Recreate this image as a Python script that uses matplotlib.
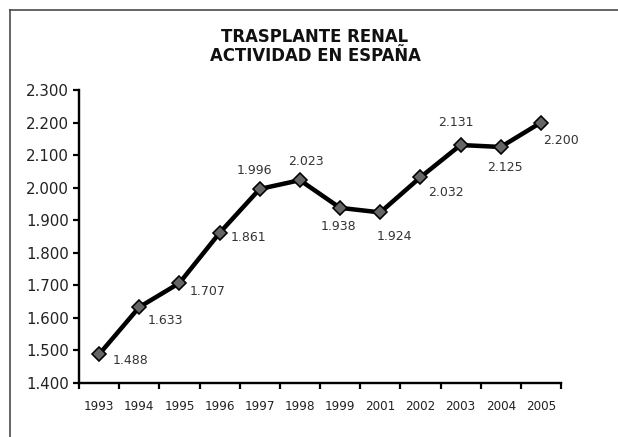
import matplotlib
matplotlib.use("Agg")
import matplotlib.pyplot as plt
from matplotlib.lines import Line2D
import numpy as np

years = ["1993", "1994", "1995", "1996", "1997", "1998", "1999", "2001", "2002", "2003", "2004", "2005"]
values = [1488, 1633, 1707, 1861, 1996, 2023, 1938, 1924, 2032, 2131, 2125, 2200]
value_labels = ["1.488", "1.633", "1.707", "1.861", "1.996", "2.023", "1.938", "1.924", "2.032", "2.131", "2.125", "2.200"]
yticks = [1400, 1500, 1600, 1700, 1800, 1900, 2000, 2100, 2200, 2300]
ytick_labels = ["1.400", "1.500", "1.600", "1.700", "1.800", "1.900", "2.000", "2.100", "2.200", "2.300"]
title = "TRASPLANTE RENAL\nACTIVIDAD EN ESPAÑA"

# label placement (offset in points, horizontal alignment)
label_pos = [
    ((14, -6), "left"), ((8, -13), "left"), ((10, -8), "left"), ((11, -5), "left"),
    ((-5, 18), "center"), ((6, 19), "center"), ((-2, -19), "center"), ((14, -24), "center"),
    ((8, -15), "left"), ((-5, 23), "center"), ((4, -21), "center"), ((2, -18), "left"),
]

DPI = 72
W, H = 618, 437
fig = plt.figure(figsize=(W / DPI, H / DPI), dpi=DPI)
fig.patch.set_facecolor("white")

# frame lines (top and left)
fig.add_artist(Line2D([10 / W, 1.0], [1 - 10 / H, 1 - 10 / H], color="#444444", lw=1.6, transform=fig.transFigure))
fig.add_artist(Line2D([10 / W, 10 / W], [0.0, 1 - 10 / H], color="#444444", lw=1.6, transform=fig.transFigure))

left, right, top, bottom = 79, 561, 90, 383
ax = fig.add_axes([left / W, (H - bottom) / H, (right - left) / W, (bottom - top) / H])

x = np.arange(len(years)) + 0.5
ax.plot(x, values, color="black", lw=4.5, marker="D", markersize=10.5,
        markerfacecolor="#666666", markeredgecolor="black", markeredgewidth=1.6, zorder=3,
        solid_joinstyle="miter")

for xi, v, lab, (off, ha) in zip(x, values, value_labels, label_pos):
    ax.annotate(lab, (xi, v), xytext=off, textcoords="offset points", ha=ha, va="center",
                fontsize=12.5, color="#333333", family="DejaVu Sans")

ax.set_xlim(0, len(years))
ax.set_ylim(1400, 2300)
ax.set_yticks(yticks)
ax.set_yticklabels(ytick_labels, fontsize=15, family="DejaVu Sans", color="#222222")
ax.set_xticks(x)
ax.set_xticklabels(years, fontsize=12, family="DejaVu Sans", color="#222222")
ax.set_xticks(np.arange(len(years) + 1), minor=True)
ax.tick_params(axis="x", which="major", length=0, pad=17)
ax.tick_params(axis="x", which="minor", length=6, width=2.2, direction="out", color="black")
ax.tick_params(axis="y", which="major", length=6, width=2.2, direction="out", color="black", pad=4)

for s in ["top", "right"]:
    ax.spines[s].set_visible(False)
for s in ["left", "bottom"]:
    ax.spines[s].set_linewidth(2.4)
    ax.spines[s].set_color("black")

fig.text(315 / W, 1 - 65 / H, title, ha="center", va="bottom", fontsize=16.5, fontweight="bold",
         family="DejaVu Sans", color="#111111", linespacing=1.1)

fig.savefig("out.png", dpi=DPI)
